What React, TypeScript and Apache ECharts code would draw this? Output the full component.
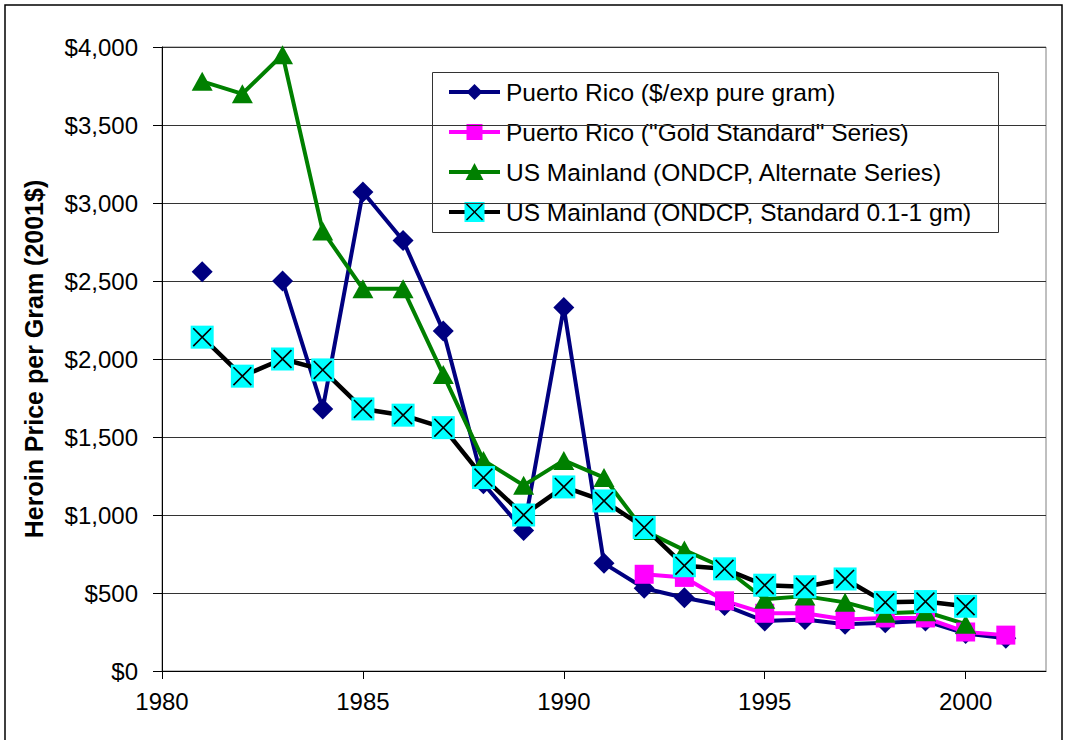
import React, { useEffect, useRef } from "react";
import * as echarts from "echarts";

const years = [1981, 1982, 1983, 1984, 1985, 1986, 1987, 1988, 1989, 1990, 1991, 1992, 1993, 1994, 1995, 1996, 1997, 1998, 1999, 2000, 2001];

const puertoRico = [2560, null, 2500, 1680, 3070, 2760, 2180, 1200, 900, 2330, 690, 530, 470, 420, 320, 330, 300, 310, 320, 240, 210];
const goldStandard = [null, null, null, null, null, null, null, null, null, null, null, 620, 600, 450, 370, 370, 330, 340, 340, 250, 230];
const usAlternate = [3780, 3700, 3950, 2820, 2450, 2450, 1900, 1350, 1190, 1350, 1240, 900, 775, 660, 460, 480, 440, 370, 380, 300, null];
const usStandard = [2140, 1890, 2000, 1930, 1680, 1640, 1560, 1240, 1000, 1180, 1090, 920, 675, 655, 550, 540, 590, 440, 445, 415, null];

const seriesNames = [
  "Puerto Rico ($/exp pure gram)",
  'Puerto Rico ("Gold Standard" Series)',
  "US Mainland (ONDCP, Alternate Series)",
  "US Mainland (ONDCP, Standard 0.1-1 gm)",
];
const xTicks = [1980, 1985, 1990, 1995, 2000];
const yAxisTitle = "Heroin Price per Gram (2001$)";

const FONT = "Liberation Sans, Arial, sans-serif";
const NAVY = "#000080";
const MAGENTA = "#FF00FF";
const GREEN = "#008000";
const CYAN = "#00FFFF";

const X_PATH =
  "path://M0,1.2 L1.2,0 L10,8.8 L18.8,0 L20,1.2 L11.2,10 L20,18.8 L18.8,20 L10,11.2 L1.2,20 L0,18.8 L8.8,10 Z";

function pairs(vals: (number | null)[]) {
  return years.map((y, i) => [y, vals[i]]);
}

function legendGraphic() {
  const left = 432;
  const top = 72;
  const rowY = [92, 132, 172, 212];
  const lineX1 = 449;
  const lineX2 = 500;
  const cx = 474.5;
  const textX = 506;
  const children: any[] = [
    {
      type: "rect",
      shape: { x: left + 0.5, y: top + 0.5, width: 566, height: 160 },
      style: { fill: "#fff", stroke: "#333", lineWidth: 1 },
    },
  ];
  const colors = [NAVY, MAGENTA, GREEN, "#000"];
  rowY.forEach((y, i) => {
    children.push({
      type: "line",
      shape: { x1: lineX1, y1: y, x2: lineX2, y2: y },
      style: { stroke: colors[i], lineWidth: 4 },
    });
    if (i === 0) {
      children.push({
        type: "polygon",
        shape: { points: [[cx, y - 8], [cx + 8, y], [cx, y + 8], [cx - 8, y]] },
        style: { fill: NAVY },
      });
    } else if (i === 1) {
      children.push({
        type: "rect",
        shape: { x: cx - 8, y: y - 8, width: 16, height: 16 },
        style: { fill: MAGENTA },
      });
    } else if (i === 2) {
      children.push({
        type: "polygon",
        shape: { points: [[cx, y - 9], [cx + 9, y + 8], [cx - 9, y + 8]] },
        style: { fill: GREEN },
      });
    } else {
      children.push({
        type: "rect",
        shape: { x: cx - 10, y: y - 10, width: 20, height: 20 },
        style: { fill: CYAN },
      });
      children.push({
        type: "line",
        shape: { x1: cx - 8, y1: y - 8, x2: cx + 8, y2: y + 8 },
        style: { stroke: "#000", lineWidth: 1.5 },
      });
      children.push({
        type: "line",
        shape: { x1: cx + 8, y1: y - 8, x2: cx - 8, y2: y + 8 },
        style: { stroke: "#000", lineWidth: 1.5 },
      });
    }
    children.push({
      type: "text",
      x: textX,
      y: y,
      style: {
        text: seriesNames[i],
        fill: "#000",
        font: `24.5px ${FONT}`,
        verticalAlign: "middle",
        align: "left",
      },
    });
  });
  return { type: "group", z: 100, children };
}

export default function App() {
  const ref = useRef<HTMLDivElement>(null);

  useEffect(() => {
    if (!ref.current) return;
    const chart = echarts.init(ref.current, undefined, { renderer: "svg" });
    const lineCommon = {
      type: "line" as const,
      connectNulls: false,
      showAllSymbol: true,
      emphasis: { disabled: true },
    };
    chart.setOption({
      animation: false,
      backgroundColor: "#fff",
      grid: {
        left: 162,
        top: 47,
        right: 20,
        bottom: 69,
        show: true,
        borderColor: "#808080",
        borderWidth: 1,
        backgroundColor: "transparent",
      },
      xAxis: {
        type: "value",
        min: 1980,
        max: 2002,
        interval: 5,
        axisLine: { show: true, lineStyle: { color: "#000", width: 1 } },
        axisTick: { show: true, length: 8, lineStyle: { color: "#000" }, customValues: xTicks },
        axisLabel: {
          customValues: xTicks,
          color: "#000",
          fontSize: 24,
          fontFamily: FONT,
          margin: 18,
          formatter: (v: number) => String(v),
        },
        splitLine: { show: false },
      },
      yAxis: {
        type: "value",
        min: 0,
        max: 4000,
        interval: 500,
        name: yAxisTitle,
        nameLocation: "middle",
        nameRotate: 90,
        nameGap: 116,
        nameTextStyle: { color: "#000", fontSize: 25, fontWeight: "bold", fontFamily: FONT },
        axisLine: { show: true, lineStyle: { color: "#000", width: 1 } },
        axisTick: { show: true, length: 9, lineStyle: { color: "#000" } },
        axisLabel: {
          color: "#000",
          fontSize: 24,
          fontFamily: FONT,
          margin: 24,
          formatter: (v: number) => "$" + v.toLocaleString("en-US"),
        },
        splitLine: { show: true, lineStyle: { color: "#333", width: 1 } },
      },
      series: [
        {
          ...lineCommon,
          name: seriesNames[0],
          data: pairs(puertoRico),
          symbol: "diamond",
          symbolSize: 21,
          itemStyle: { color: NAVY },
          lineStyle: { color: NAVY, width: 4 },
        },
        {
          ...lineCommon,
          name: seriesNames[1],
          data: pairs(goldStandard),
          symbol: "rect",
          symbolSize: 19,
          itemStyle: { color: MAGENTA },
          lineStyle: { color: MAGENTA, width: 4 },
        },
        {
          ...lineCommon,
          name: seriesNames[2],
          data: pairs(usAlternate),
          symbol: "triangle",
          symbolSize: [21, 19],
          itemStyle: { color: GREEN },
          lineStyle: { color: GREEN, width: 4 },
        },
        {
          ...lineCommon,
          name: seriesNames[3],
          data: pairs(usStandard),
          symbol: "rect",
          symbolSize: 23,
          itemStyle: { color: CYAN },
          lineStyle: { color: "#000", width: 4.5 },
        },
        {
          ...lineCommon,
          name: "usStandardX",
          data: pairs(usStandard),
          symbol: X_PATH,
          symbolSize: 19,
          itemStyle: { color: "#000" },
          lineStyle: { width: 0, opacity: 0 },
          z: 3,
        },
      ],
      graphic: [
        {
          type: "rect",
          silent: true,
          z: 200,
          shape: { x: 5, y: 5, width: 1057, height: 760 },
          style: { fill: "none", stroke: "#000", lineWidth: 1.5 },
        },
        legendGraphic(),
      ],
    });
    return () => chart.dispose();
  }, []);

  return (
    <div
      ref={ref}
      style={{ position: "absolute", left: 0, top: 0, width: 1066, height: 740 }}
    />
  );
}
